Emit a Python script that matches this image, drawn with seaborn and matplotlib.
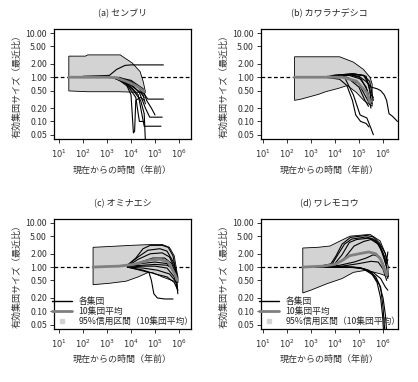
import numpy as np
import pandas as pd
import matplotlib
matplotlib.use("Agg")
import matplotlib.pyplot as plt
from matplotlib.lines import Line2D
import seaborn as sns

# 時間は log10(年前) で読み取った値
titles = ["(a) センブリ", "(b) カワラナデシコ", "(c) オミナエシ", "(d) ワレモコウ"]

# (a) センブリ
a_lines = [
    ([2.0, 3.1, 3.4, 3.75, 4.0, 5.35], [1.05, 1.1, 1.5, 1.85, 1.9, 1.9]),
    ([3.2, 3.7, 4.1, 4.4, 4.55, 4.6], [1.0, 0.8, 0.5, 0.3, 0.15, 0.035]),
    ([3.3, 3.9, 4.3, 4.5, 4.7, 5.35], [1.0, 0.8, 0.6, 0.45, 0.32, 0.32]),
    ([3.4, 4.0, 4.35, 4.6, 4.78, 5.3], [0.98, 0.7, 0.45, 0.2, 0.125, 0.125]),
    ([3.5, 4.0, 4.3, 4.45, 4.55, 5.25], [0.97, 0.6, 0.4, 0.15, 0.078, 0.078]),
    ([3.4, 4.0, 4.5, 4.65, 4.85, 5.0], [1.0, 0.85, 0.55, 0.3, 0.2, 0.14]),
    ([3.3, 3.8, 4.0, 4.05, 4.1, 4.15, 4.2, 4.4, 4.55], [1.0, 0.7, 0.4, 0.15, 0.055, 0.06, 0.3, 0.35, 0.3]),
    ([3.4, 3.9, 4.2, 4.3, 4.35, 4.5], [0.95, 0.6, 0.35, 0.15, 0.1, 0.1]),
    ([3.3, 4.0, 4.4, 4.55], [0.95, 0.65, 0.45, 0.35]),
    ([3.5, 4.0, 4.3, 4.5, 4.6], [1.0, 0.8, 0.6, 0.4, 0.25]),
]
a_mean_t = [1.41, 3.0, 3.4, 3.96, 4.3, 4.55]
a_mean_y = [1.0, 1.0, 0.97, 0.75, 0.6, 0.47]
a_ci_t = [1.41, 2.1, 2.2, 3.55, 4.05, 4.38, 4.51, 4.6, 4.6, 3.5, 2.2, 1.41]
a_ci_y = [3.0, 3.0, 3.2, 3.2, 2.1, 1.34, 0.79, 0.47, 0.45, 0.47, 0.47, 0.49]

# (b) カワラナデシコ
b_lines = [
    ([3.8, 4.5, 5.0, 5.3, 5.5, 5.75, 5.9, 6.05, 6.15, 6.25, 6.4, 6.6],
     [1.05, 1.15, 1.05, 0.8, 0.6, 0.55, 0.5, 0.4, 0.3, 0.15, 0.13, 0.1]),
    ([3.6, 4.2, 4.5, 4.73, 4.87, 5.07, 5.3, 5.42], [1.0, 0.9, 0.65, 0.3, 0.14, 0.1, 0.09, 0.075]),
    ([3.7, 4.4, 4.77, 5.05, 5.33, 5.5, 5.6], [1.05, 1.0, 0.4, 0.14, 0.12, 0.07, 0.05]),
    ([3.9, 4.6, 5.0, 5.3, 5.45, 5.55], [1.1, 1.15, 1.0, 0.6, 0.3, 0.25]),
    ([4.0, 4.7, 5.2, 5.4, 5.5, 5.6], [1.1, 1.2, 1.1, 0.7, 0.4, 0.35]),
    ([3.8, 4.6, 5.1, 5.35, 5.5], [1.05, 1.1, 0.9, 0.5, 0.2]),
    ([3.9, 4.7, 5.2, 5.45, 5.55, 5.6], [1.05, 1.15, 1.1, 0.8, 0.4, 0.3]),
    ([4.0, 4.6, 5.0, 5.3, 5.45], [1.1, 0.95, 0.7, 0.35, 0.25]),
    ([3.8, 4.5, 5.0, 5.25, 5.4], [1.05, 1.0, 0.6, 0.3, 0.22]),
    ([4.0, 4.8, 5.3, 5.45, 5.5], [1.1, 1.2, 1.05, 0.5, 0.3]),
]
b_mean_t = [2.33, 4.3, 4.9, 5.33, 5.46]
b_mean_y = [1.0, 1.0, 0.82, 0.45, 0.27]
b_ci_t = [2.33, 4.2, 4.77, 5.19, 5.46, 5.55, 5.55, 5.2, 4.9, 4.52, 4.15, 3.62, 3.32, 2.6, 2.33]
b_ci_y = [2.9, 2.9, 2.2, 1.5, 1.0, 0.7, 0.22, 0.3, 0.45, 0.65, 0.56, 0.47, 0.41, 0.32, 0.3]

# (c) オミナエシ
c_lines = [
    ([3.85, 4.2, 4.5, 4.8, 5.3, 5.55, 5.75, 5.85, 5.95], [1.1, 1.6, 2.6, 3.1, 3.1, 2.8, 1.8, 0.9, 0.5]),
    ([3.85, 4.3, 4.7, 5.2, 5.5, 5.8, 5.95], [1.1, 1.7, 2.4, 2.6, 2.3, 1.2, 0.55]),
    ([3.85, 4.3, 4.8, 5.3, 5.6, 5.85, 5.93], [1.05, 1.5, 2.0, 2.1, 1.7, 0.9, 0.35]),
    ([3.85, 4.4, 4.9, 5.4, 5.7, 5.9], [1.05, 1.3, 1.6, 1.6, 1.2, 0.6]),
    ([3.85, 4.4, 5.0, 5.5, 5.8, 5.95], [1.05, 1.2, 1.3, 1.2, 0.8, 0.45]),
    ([3.85, 4.5, 5.0, 5.5, 5.8, 5.95], [1.0, 1.05, 1.05, 0.95, 0.6, 0.3]),
    ([3.85, 4.5, 5.1, 5.6, 5.9, 5.95], [1.0, 0.95, 0.85, 0.7, 0.45, 0.25]),
    ([3.85, 4.5, 5.0, 5.5, 5.8, 5.95], [1.0, 0.85, 0.7, 0.6, 0.45, 0.3]),
    ([3.85, 4.5, 4.75, 4.85, 4.95, 5.1, 5.4, 5.75], [1.0, 0.82, 0.75, 0.5, 0.25, 0.2, 0.19, 0.19]),
    ([3.85, 4.5, 5.0, 5.5, 5.8, 5.95], [1.05, 1.1, 1.15, 1.1, 0.9, 0.6]),
]
c_mean_t = [2.42, 3.0, 3.5, 4.1, 4.8, 5.2, 5.55, 5.85, 5.93]
c_mean_y = [1.0, 1.03, 1.05, 1.15, 1.45, 1.5, 1.3, 0.65, 0.5]
c_ci_t = [2.42, 3.0, 4.0, 4.6, 5.3, 5.6, 5.8, 5.95, 5.95, 5.7, 5.3, 4.9, 4.7, 4.3, 3.8, 3.1, 2.42]
c_ci_y = [2.8, 2.9, 3.1, 3.2, 3.25, 2.8, 1.8, 0.6, 0.45, 0.5, 0.6, 0.75, 0.75, 0.6, 0.48, 0.43, 0.4]

# (d) ワレモコウ
d_lines = [
    ([3.2, 3.8, 4.05, 4.3, 4.65, 5.3, 5.6, 5.85, 6.0, 6.1, 6.15, 6.2],
     [1.0, 1.1, 1.8, 3.3, 4.7, 5.2, 4.8, 3.5, 2.5, 2.0, 1.4, 2.2]),
    ([3.2, 3.9, 4.15, 4.4, 4.7, 5.3, 5.6, 5.85, 6.05, 6.15, 6.2],
     [1.0, 1.2, 2.0, 3.3, 4.3, 4.8, 4.3, 3.2, 1.8, 1.2, 1.5]),
    ([3.2, 4.0, 4.3, 4.6, 4.9, 5.4, 5.7, 5.9, 6.05, 6.2], [1.0, 1.2, 1.9, 3.6, 4.2, 4.5, 3.9, 2.6, 1.5, 0.8]),
    ([3.2, 4.0, 4.4, 4.8, 5.2, 5.5, 5.8, 6.0, 6.15, 6.2], [1.0, 1.1, 1.6, 3.0, 3.8, 4.2, 3.3, 2.0, 1.0, 0.6]),
    ([3.2, 4.2, 4.8, 5.3, 5.6, 5.85, 6.0, 6.15, 6.2], [1.0, 1.1, 1.3, 1.6, 1.9, 1.7, 1.2, 0.7, 0.55]),
    ([3.2, 4.3, 5.0, 5.5, 5.8, 6.0, 6.15], [1.0, 1.05, 1.2, 1.35, 1.3, 0.9, 0.5]),
    ([3.2, 4.5, 5.0, 5.4, 5.7, 5.9, 6.0, 6.05, 6.08], [1.0, 1.0, 0.98, 0.85, 0.6, 0.35, 0.12, 0.05, 0.035]),
    ([3.2, 4.6, 5.1, 5.5, 5.75, 5.9, 5.98, 6.02], [1.0, 1.0, 0.95, 0.75, 0.45, 0.2, 0.08, 0.035]),
    ([3.2, 4.8, 5.2, 5.6, 5.85, 6.0, 6.1, 6.15], [1.0, 1.0, 0.9, 0.65, 0.4, 0.2, 0.08, 0.035]),
    ([3.2, 4.7, 5.2, 5.6, 5.9, 6.1, 6.2], [1.0, 0.98, 0.92, 0.75, 0.55, 0.35, 0.3]),
]
d_mean_t = [2.67, 3.5, 4.0, 4.3, 4.6, 5.0, 5.4, 5.7, 5.9, 6.05, 6.15, 6.2]
d_mean_y = [1.0, 1.05, 1.15, 1.4, 1.8, 2.0, 2.2, 2.0, 1.5, 0.9, 0.65, 0.9]
d_ci_t = [2.67, 3.3, 3.8, 4.22, 4.63, 5.46, 5.88, 6.1, 6.22, 6.22, 5.9, 5.3, 4.77, 4.3, 3.67, 3.0, 2.67]
d_ci_y = [2.7, 2.8, 3.0, 3.9, 5.0, 5.5, 3.9, 2.0, 1.0, 0.6, 0.7, 0.85, 0.76, 0.55, 0.42, 0.3, 0.26]

panels = [
    (a_lines, a_mean_t, a_mean_y, a_ci_t, a_ci_y, (10 ** 0.79, 10 ** 6.5)),
    (b_lines, b_mean_t, b_mean_y, b_ci_t, b_ci_y, (10 ** 0.93, 10 ** 6.62)),
    (c_lines, c_mean_t, c_mean_y, c_ci_t, c_ci_y, (10 ** 0.79, 10 ** 6.5)),
    (d_lines, d_mean_t, d_mean_y, d_ci_t, d_ci_y, (10 ** 0.93, 10 ** 6.6)),
]
yticks = [0.05, 0.1, 0.2, 0.5, 1, 2, 5, 10]
xticks = [1e1, 1e2, 1e3, 1e4, 1e5, 1e6]

sns.set_style("ticks")
plt.rcParams["font.family"] = ["Noto Sans CJK JP", "DejaVu Sans"]
plt.rcParams["mathtext.fontset"] = "dejavusans"

fig = plt.figure(figsize=(4.18, 3.82), dpi=100)
rects = [
    [0.129, 0.636, 0.328, 0.288],
    [0.624, 0.636, 0.328, 0.288],
    [0.129, 0.139, 0.328, 0.288],
    [0.624, 0.139, 0.327, 0.288],
]

for i, (lines, mt, my, ct, cy, xlim) in enumerate(panels):
    ax = fig.add_axes(rects[i])
    ax.set_xscale("log")
    ax.set_yscale("log")
    ax.axhline(1, color="black", lw=0.9, ls=(0, (3, 2)), zorder=1)
    ax.fill(10 ** np.array(ct), cy, facecolor="#d3d3d3", edgecolor="black", lw=0.6, zorder=2)

    df = pd.concat(
        [pd.DataFrame({"t": 10 ** np.array(t), "ne": y, "pop": k}) for k, (t, y) in enumerate(lines)]
    )
    sns.lineplot(data=df, x="t", y="ne", units="pop", estimator=None, sort=False,
                 color="black", lw=0.8, legend=False, ax=ax, zorder=3)
    sns.lineplot(x=10 ** np.array(mt), y=my, color="#808080", lw=2.0, ax=ax, zorder=4)

    ax.set_xlim(*xlim)
    ax.set_ylim(0.04, 12.3)
    ax.set_yticks(yticks)
    ax.set_yticklabels([f"{v:.2f}" for v in yticks])
    ax.set_xticks(xticks)
    ax.set_xticklabels([f"$10^{{{k}}}$" for k in range(1, 7)])
    ax.minorticks_off()
    ax.tick_params(axis="both", labelsize=6.3, length=3, width=0.7, pad=2, colors="#333333")
    ax.tick_params(axis="x", labelsize=6.0, pad=3)
    for s in ax.spines.values():
        s.set_linewidth(0.9)
        s.set_color("black")
    ax.set_title(titles[i], fontsize=6.5, pad=9)
    ax.set_xlabel("現在からの時間（年前）", fontsize=6.5, labelpad=4, color="#333333")
    ax.set_ylabel("有効集団サイズ（最近比）", fontsize=6.5, labelpad=3, color="#333333")

    if i >= 2:
        handles = [
            Line2D([], [], color="black", lw=1.0),
            Line2D([], [], color="#808080", lw=2.0),
            Line2D([], [], color="#d3d3d3", marker="s", ms=3, lw=0),
        ]
        labels = ["各集団", "10集団平均", "95%信用区間（10集団平均）"]
        ax.legend(handles, labels, loc="lower left", frameon=False, fontsize=6.3,
                  borderpad=0.1, borderaxespad=0.2, handlelength=2.2, handletextpad=0.8,
                  labelspacing=0.15, bbox_to_anchor=(-0.03, 0.0))

fig.savefig("out.png", dpi=100)
